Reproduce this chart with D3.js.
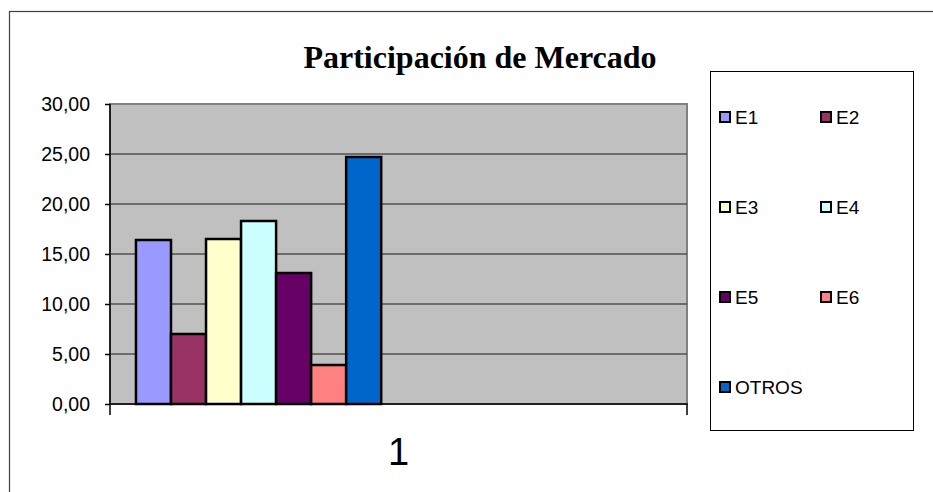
<!DOCTYPE html>
<html><head><meta charset="utf-8">
<script src="https://cdn.jsdelivr.net/npm/d3@7"></script>
<style>body{margin:0;background:#fff}svg{display:block}</style>
</head><body>
<svg id="c" width="933" height="492"></svg>
<script>
const title = "Participación de Mercado";
const categories = ["1"];
const seriesNames = ["E1","E2","E3","E4","E5","E6","OTROS"];
const seriesValues = [16.4, 7.0, 16.5, 18.3, 13.1, 3.9, 24.7];
const seriesColors = ["#9999FF","#993366","#FFFFCC","#CCFFFF","#660066","#FF8080","#0066CC"];
const yTicks = [0,5,10,15,20,25,30];

const svg = d3.select("#c");
const W = 933, H = 492;
const plot = {left:110, top:104, right:687, bottom:404};

// outer chart border (only top/left visible in frame)
svg.append("rect").attr("x",9.5).attr("y",11.5).attr("width",W+10).attr("height",H+10)
  .attr("fill","#fff").attr("stroke","#404040").attr("stroke-width",1.2);

const y = d3.scaleLinear().domain([0,30]).range([plot.bottom, plot.top]);
const x0 = d3.scaleBand().domain(categories).range([plot.left, plot.right]);
const bw = x0.bandwidth();
const x1 = d3.scaleBand().domain(seriesNames).range([bw*0.045, bw*0.47]);

// plot background
svg.append("rect").attr("x",plot.left).attr("y",plot.top)
  .attr("width",plot.right-plot.left).attr("height",plot.bottom-plot.top)
  .attr("fill","#C0C0C0").attr("stroke","#808080").attr("stroke-width",2);

// gridlines
svg.append("g").selectAll("line").data(yTicks.filter(d=>d>0 && d<30)).join("line")
  .attr("x1",plot.left).attr("x2",plot.right)
  .attr("y1",d=>y(d)).attr("y2",d=>y(d))
  .attr("stroke","#505050").attr("stroke-width",1.5);

// bars
const data = seriesNames.map((n,i)=>({name:n, value:seriesValues[i], color:seriesColors[i], cat:categories[0]}));
svg.append("g").selectAll("rect").data(data).join("rect")
  .attr("x",d=>x0(d.cat)+x1(d.name))
  .attr("y",d=>y(d.value))
  .attr("width",x1.bandwidth())
  .attr("height",d=>y(0)-y(d.value))
  .attr("fill",d=>d.color).attr("stroke","#000").attr("stroke-width",2.5);

// y axis
const yAxis = d3.axisLeft(y).tickValues(yTicks).tickSize(5).tickPadding(15)
  .tickFormat(d=>d3.format(".2f")(d).replace(".",","));
const ga = svg.append("g").attr("transform",`translate(${plot.left},0)`).call(yAxis);
ga.select(".domain").attr("d",`M0,${plot.top}V${plot.bottom+11}`).attr("stroke","#000").attr("stroke-width",1.5);
ga.selectAll(".tick line").attr("stroke","#000").attr("stroke-width",1.5);
ga.selectAll(".tick text").attr("font-family","Arial, 'Liberation Sans', sans-serif")
  .attr("font-size",19.5).attr("fill","#000");

// x axis
const xAxis = d3.axisBottom(x0).tickSize(0).tickPadding(0);
const gx = svg.append("g").attr("transform",`translate(0,${plot.bottom})`).call(xAxis);
gx.select(".domain").attr("d",`M${plot.left},0H${plot.right}V11`).attr("stroke","#000").attr("stroke-width",1.5).attr("fill","none");
gx.selectAll(".tick text").attr("font-family","Arial, 'Liberation Sans', sans-serif")
  .attr("font-size",38).attr("fill","#000").attr("dy",null).attr("y",61);

// title
svg.append("text").attr("x",480).attr("y",68).attr("text-anchor","middle")
  .attr("font-family","'Times New Roman', 'Liberation Serif', serif")
  .attr("font-weight","bold").attr("font-size",32).attr("fill","#000").text(title);

// legend
const lg = svg.append("g");
lg.append("rect").attr("x",710.5).attr("y",71.5).attr("width",203).attr("height",359)
  .attr("fill","#fff").attr("stroke","#000").attr("stroke-width",1);
const items = lg.selectAll("g.it").data(data).join("g").attr("class","it")
  .attr("transform",(d,i)=>`translate(${720 + (i%2)*101},${117 + Math.floor(i/2)*90})`);
items.append("rect").attr("x",0).attr("y",-5).attr("width",10).attr("height",10)
  .attr("fill",d=>d.color).attr("stroke","#000").attr("stroke-width",2);
items.append("text").attr("x",15).attr("y",0).attr("dy","0.35em")
  .attr("font-family","Arial, 'Liberation Sans', sans-serif").attr("font-size",19).attr("fill","#000")
  .text(d=>d.name);
</script>
</body></html>
